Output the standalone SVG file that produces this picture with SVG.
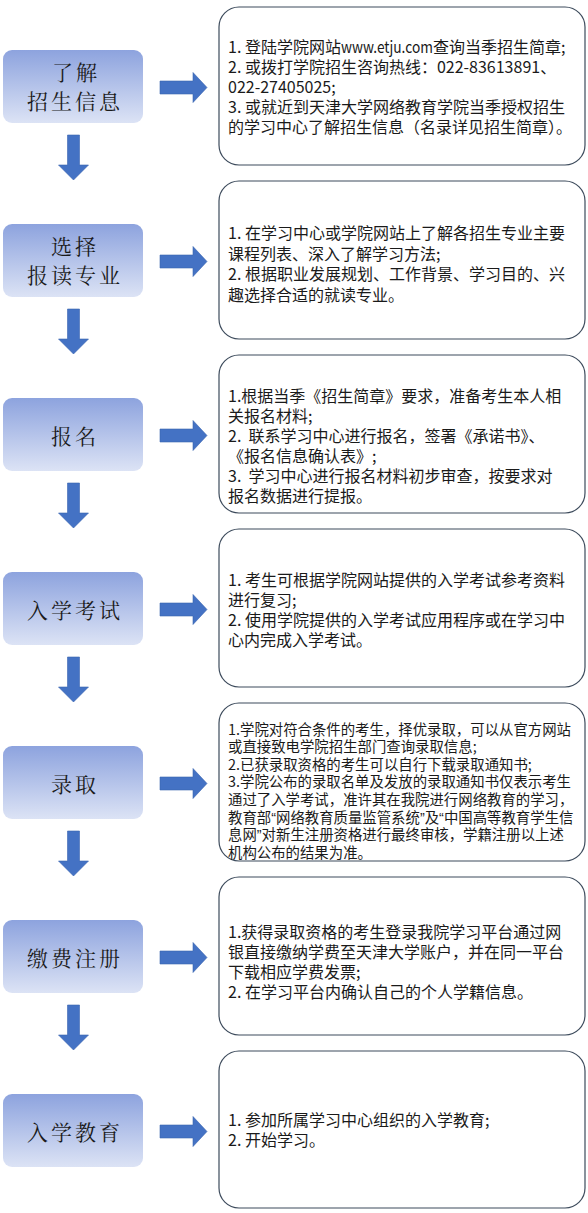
<svg xmlns="http://www.w3.org/2000/svg" width="588" height="1213" viewBox="0 0 588 1213">
<defs>
<linearGradient id="stepGrad" x1="0" y1="0" x2="0" y2="1">
<stop offset="0" stop-color="#8DA3DE"/>
<stop offset="1" stop-color="#DCE3F5"/>
</linearGradient>
<style>
.step{fill:url(#stepGrad);}
.stepText{font-family:"Noto Serif CJK SC","Noto Sans CJK SC",serif;font-size:21px;fill:#1a1a1a;text-anchor:middle;letter-spacing:3px;}
.info{fill:#ffffff;stroke:#3d4b5c;stroke-width:1.2;}
.infoText{font-family:"Noto Sans CJK SC","Liberation Sans",sans-serif;font-size:16px;fill:#1a1a1a;}
.small{font-size:14.4px;}
.q{font-family:"Liberation Sans",sans-serif;}
.arrow{fill:#4472C4;stroke:#3a64b0;stroke-width:0.6;}
</style>
</defs>
<rect width="588" height="1213" fill="#ffffff"/>

<g id="connectors">
<polygon class="arrow" points="67.5,135 79.5,135 79.5,165 88.5,165 73.5,180 58.5,165 67.5,165"/>
<polygon class="arrow" points="67.5,309 79.5,309 79.5,339 88.5,339 73.5,354 58.5,339 67.5,339"/>
<polygon class="arrow" points="67.5,483 79.5,483 79.5,513 88.5,513 73.5,528 58.5,513 67.5,513"/>
<polygon class="arrow" points="67.5,657 79.5,657 79.5,687 88.5,687 73.5,702 58.5,687 67.5,687"/>
<polygon class="arrow" points="67.5,831 79.5,831 79.5,861 88.5,861 73.5,876 58.5,861 67.5,861"/>
<polygon class="arrow" points="67.5,1005 79.5,1005 79.5,1035 88.5,1035 73.5,1050 58.5,1035 67.5,1035"/>
<polygon class="arrow" points="160,81 193,81 193,72.5 207,87.5 193,102.5 193,94 160,94"/>
<polygon class="arrow" points="160,255 193,255 193,246.5 207,261.5 193,276.5 193,268 160,268"/>
<polygon class="arrow" points="160,429 193,429 193,420.5 207,435.5 193,450.5 193,442 160,442"/>
<polygon class="arrow" points="160,603 193,603 193,594.5 207,609.5 193,624.5 193,616 160,616"/>
<polygon class="arrow" points="160,777 193,777 193,768.5 207,783.5 193,798.5 193,790 160,790"/>
<polygon class="arrow" points="160,951 193,951 193,942.5 207,957.5 193,972.5 193,964 160,964"/>
<polygon class="arrow" points="160,1125 193,1125 193,1116.5 207,1131.5 193,1146.5 193,1138 160,1138"/>
</g>

<g id="step1">
<rect class="step" x="3" y="50" width="140" height="73" rx="9"/>
<text class="stepText" x="76" y="80">了解</text>
<text class="stepText" x="75" y="109">招生信息</text>
</g>
<g id="info1">
<rect class="info" x="219" y="7" width="366" height="158" rx="20"/>
<text class="infoText" x="228" y="53">1. 登陆学院网站<tspan textLength="92" lengthAdjust="spacingAndGlyphs">www.etju.com</tspan>查询当季招生简章;</text>
<text class="infoText" x="228" y="73">2. 或拨打学院招生咨询热线：022-83613891、</text>
<text class="infoText" x="228" y="93">022-27405025;</text>
<text class="infoText" x="228" y="113">3. 或就近到天津大学网络教育学院当季授权招生</text>
<text class="infoText" x="228" y="133">的学习中心了解招生信息（名录详见招生简章）。</text>
</g>

<g id="step2">
<rect class="step" x="3" y="224" width="140" height="73" rx="9"/>
<text class="stepText" x="75" y="254">选择</text>
<text class="stepText" x="75" y="283">报读专业</text>
</g>
<g id="info2">
<rect class="info" x="219" y="181" width="366" height="158" rx="20"/>
<text class="infoText" x="228" y="239">1. 在学习中心或学院网站上了解各招生专业主要</text>
<text class="infoText" x="228" y="259.5">课程列表、深入了解学习方法;</text>
<text class="infoText" x="228" y="280">2. 根据职业发展规划、工作背景、学习目的、兴</text>
<text class="infoText" x="228" y="300.5">趣选择合适的就读专业。</text>
</g>

<g id="step3">
<rect class="step" x="3" y="398" width="140" height="73" rx="9"/>
<text class="stepText" x="75" y="444">报名</text>
</g>
<g id="info3">
<rect class="info" x="219" y="355" width="366" height="158" rx="20"/>
<text class="infoText" x="228" y="402">1.根据当季《招生简章》要求，准备考生本人相</text>
<text class="infoText" x="228" y="422">关报名材料;</text>
<text class="infoText" x="228" y="442">2.&#160;&#160;联系学习中心进行报名，签署《承诺书》、</text>
<text class="infoText" x="228" y="462">《报名信息确认表》;</text>
<text class="infoText" x="228" y="482">3.&#160;&#160;学习中心进行报名材料初步审查，按要求对</text>
<text class="infoText" x="228" y="502">报名数据进行提报。</text>
</g>

<g id="step4">
<rect class="step" x="3" y="572" width="140" height="73" rx="9"/>
<text class="stepText" x="75" y="618">入学考试</text>
</g>
<g id="info4">
<rect class="info" x="219" y="529" width="366" height="158" rx="20"/>
<text class="infoText" x="228" y="586">1. 考生可根据学院网站提供的入学考试参考资料</text>
<text class="infoText" x="228" y="606">进行复习;</text>
<text class="infoText" x="228" y="626">2. 使用学院提供的入学考试应用程序或在学习中</text>
<text class="infoText" x="228" y="646">心内完成入学考试。</text>
</g>

<g id="step5">
<rect class="step" x="3" y="746" width="140" height="73" rx="9"/>
<text class="stepText" x="75" y="792">录取</text>
</g>
<g id="info5">
<rect class="info" x="219" y="703" width="366" height="158" rx="20"/>
<text class="infoText small" x="228" y="734.5">1.学院对符合条件的考生，择优录取，可以从官方网站</text>
<text class="infoText small" x="228" y="752.1">或直接致电学院招生部门查询录取信息;</text>
<text class="infoText small" x="228" y="769.7">2.已获录取资格的考生可以自行下载录取通知书;</text>
<text class="infoText small" x="228" y="787.3">3.学院公布的录取名单及发放的录取通知书仅表示考生</text>
<text class="infoText small" x="228" y="804.9">通过了入学考试，准许其在我院进行网络教育的学习，</text>
<text class="infoText small" x="228" y="822.5">教育部<tspan class="q">“</tspan>网络教育质量监管系统<tspan class="q">”</tspan>及<tspan class="q">“</tspan>中国高等教育学生信</text>
<text class="infoText small" x="228" y="840.1">息网<tspan class="q">”</tspan>对新生注册资格进行最终审核，学籍注册以上述</text>
<text class="infoText small" x="228" y="857.5">机构公布的结果为准。</text>
</g>

<g id="step6">
<rect class="step" x="3" y="920" width="140" height="73" rx="9"/>
<text class="stepText" x="75" y="966">缴费注册</text>
</g>
<g id="info6">
<rect class="info" x="219" y="877" width="366" height="158" rx="20"/>
<text class="infoText" x="228" y="938">1.获得录取资格的考生登录我院学习平台通过网</text>
<text class="infoText" x="228" y="958">银直接缴纳学费至天津大学账户，并在同一平台</text>
<text class="infoText" x="228" y="978">下载相应学费发票;</text>
<text class="infoText" x="228" y="998">2. 在学习平台内确认自己的个人学籍信息。</text>
</g>

<g id="step7">
<rect class="step" x="3" y="1094" width="140" height="73" rx="9"/>
<text class="stepText" x="75" y="1140">入学教育</text>
</g>
<g id="info7">
<rect class="info" x="219" y="1051" width="366" height="157" rx="20"/>
<text class="infoText" x="228" y="1126">1. 参加所属学习中心组织的入学教育;</text>
<text class="infoText" x="228" y="1146">2. 开始学习。</text>
</g>
</svg>
